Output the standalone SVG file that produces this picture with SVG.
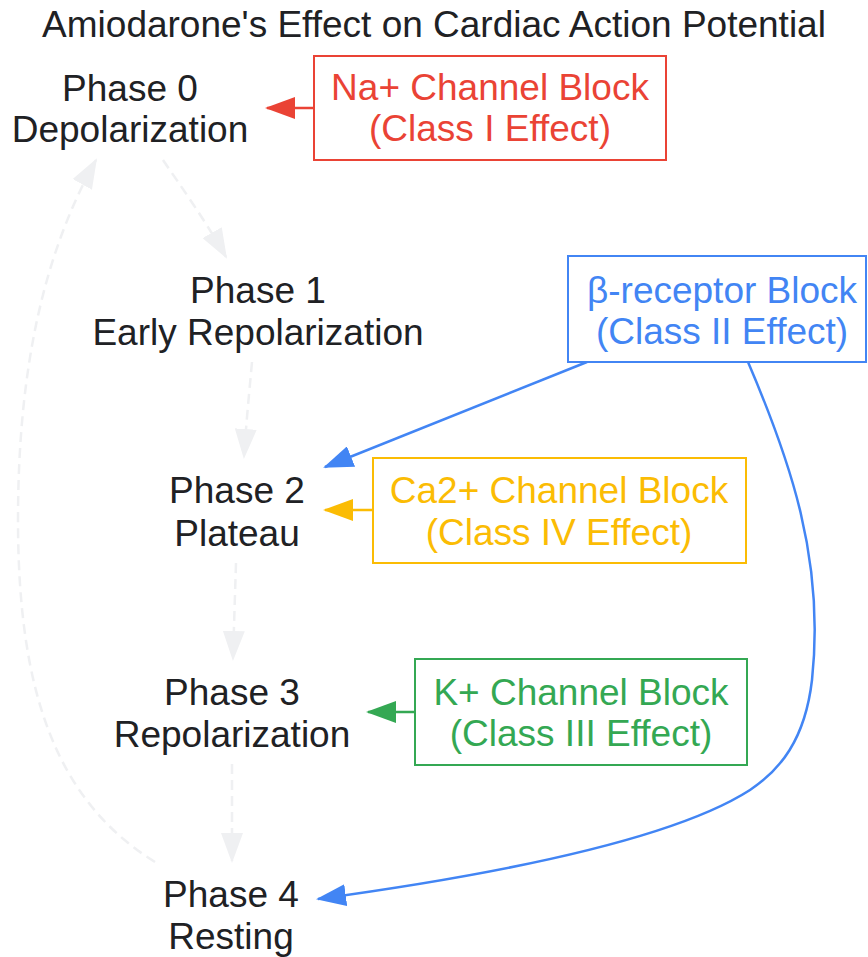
<svg xmlns="http://www.w3.org/2000/svg" width="868" height="957" viewBox="0 0 868 957">
<defs>
<style>
text{font-family:"Liberation Sans",Arial,sans-serif;font-size:37px;text-anchor:middle}
.n{fill:#202124}
.box{fill:#fff;stroke-width:2}
.dash{fill:none;stroke:#eff0f2;stroke-width:2.5;stroke-dasharray:10 6}
.ln{fill:none;stroke-width:2.5}
</style>
<marker id="mg" markerUnits="userSpaceOnUse" markerWidth="30" markerHeight="22" refX="28" refY="11" orient="auto"><path d="M0,0L30,11L0,22z" fill="#eff0f2"/></marker>
<marker id="mr" markerUnits="userSpaceOnUse" markerWidth="30" markerHeight="22" refX="28" refY="11" orient="auto"><path d="M0,0L30,11L0,22z" fill="#ea4335"/></marker>
<marker id="mb" markerUnits="userSpaceOnUse" markerWidth="30" markerHeight="22" refX="28" refY="11" orient="auto"><path d="M0,0L30,11L0,22z" fill="#4285f4"/></marker>
<marker id="my" markerUnits="userSpaceOnUse" markerWidth="30" markerHeight="22" refX="28" refY="11" orient="auto"><path d="M0,0L30,11L0,22z" fill="#fbbc04"/></marker>
<marker id="mgr" markerUnits="userSpaceOnUse" markerWidth="30" markerHeight="22" refX="28" refY="11" orient="auto"><path d="M0,0L30,11L0,22z" fill="#34a853"/></marker>
</defs>
<rect width="868" height="957" fill="#fff"/>
<text x="434" y="37" class="n">Amiodarone's Effect on Cardiac Action Potential</text>
<g id="connectors">
<path class="dash" d="M163,160 C180,185 205,220 226,257" marker-end="url(#mg)"/>
<path class="dash" d="M252,362 C249,395 246,425 244,457" marker-end="url(#mg)"/>
<path class="dash" d="M236,563 C235,595 234,625 233,659" marker-end="url(#mg)"/>
<path class="dash" d="M232,764 L232,861" marker-end="url(#mg)"/>
<path class="dash" d="M155,862 C55,800 18,690 18,520 C18,380 40,260 96,160" marker-end="url(#mg)"/>
<path class="ln" stroke="#ea4335" d="M314,108 L267,108" marker-end="url(#mr)"/>
<path class="ln" stroke="#fbbc04" d="M373,510 L325,510" marker-end="url(#my)"/>
<path class="ln" stroke="#34a853" d="M415,712 L368,712" marker-end="url(#mgr)"/>
<path class="ln" stroke="#4285f4" d="M587,362 L325,467" marker-end="url(#mb)"/>
<path class="ln" stroke="#4285f4" d="M748,362 C790,460 825,560 812,680 C805,740 780,770 750,790 C680,835 530,870 318,899" marker-end="url(#mb)"/>
</g>
<g id="phase0"><text class="n" x="130" y="101">Phase 0</text><text class="n" x="130" y="142">Depolarization</text></g>
<g id="phase1"><text class="n" x="258" y="303">Phase 1</text><text class="n" x="258" y="345">Early Repolarization</text></g>
<g id="phase2"><text class="n" x="237" y="503">Phase 2</text><text class="n" x="237" y="546">Plateau</text></g>
<g id="phase3"><text class="n" x="232" y="705">Phase 3</text><text class="n" x="232" y="747">Repolarization</text></g>
<g id="phase4"><text class="n" x="231" y="907">Phase 4</text><text class="n" x="231" y="949">Resting</text></g>
<g id="na"><rect class="box" x="314" y="56" width="352" height="104" stroke="#ea4335"/><text x="490" y="100" fill="#ea4335">Na+ Channel Block</text><text x="490" y="141" fill="#ea4335">(Class I Effect)</text></g>
<g id="beta"><rect class="box" x="568" y="256" width="298" height="106" stroke="#4285f4"/><text x="722" y="303" fill="#4285f4">β-receptor Block</text><text x="722" y="344" fill="#4285f4">(Class II Effect)</text></g>
<g id="ca"><rect class="box" x="373" y="458" width="373" height="105" stroke="#fbbc04"/><text x="559" y="503" fill="#fbbc04">Ca2+ Channel Block</text><text x="559" y="545" fill="#fbbc04">(Class IV Effect)</text></g>
<g id="k"><rect class="box" x="415" y="659" width="332" height="106" stroke="#34a853"/><text x="581" y="705" fill="#34a853">K+ Channel Block</text><text x="581" y="746" fill="#34a853">(Class III Effect)</text></g>
</svg>
